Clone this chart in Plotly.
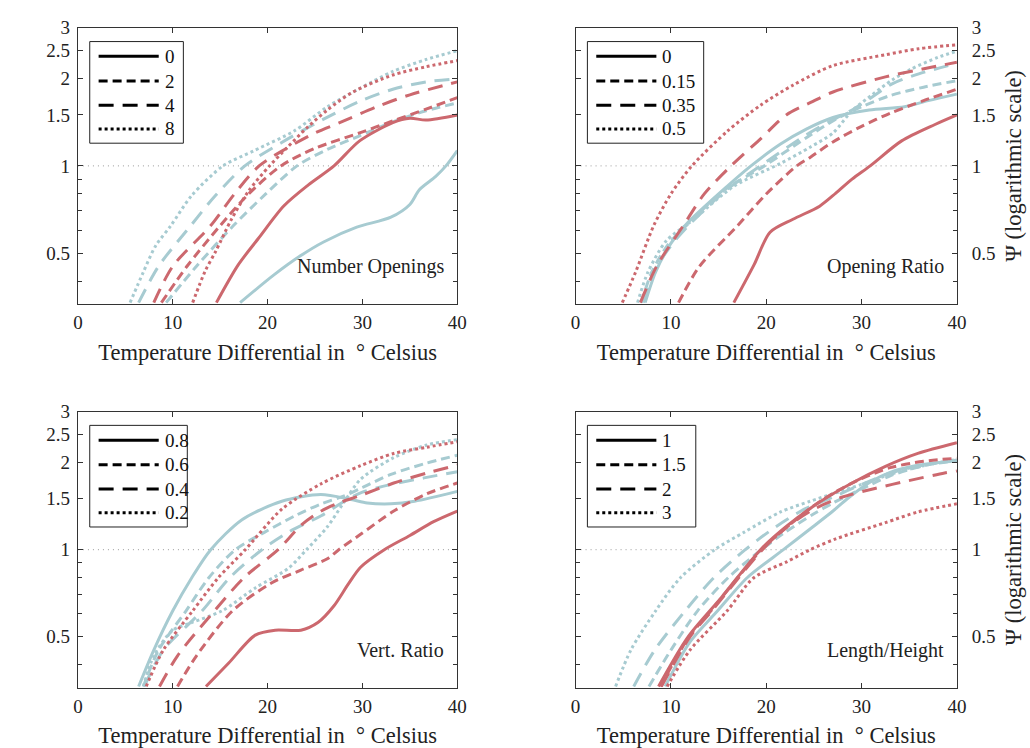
import math
import plotly.graph_objects as go

# ---------------- data ----------------
X_TICKS = [0, 10, 20, 30, 40]
Y_TICKS = [0.5, 1, 1.5, 2, 2.5, 3]
Y_TICK_TEXT = ["0.5", "1", "1.5", "2", "2.5", "3"]
Y_MINOR = [0.4, 0.6, 0.7, 0.8, 0.9]
PANEL_TITLES = ["Number Openings", "Opening Ratio", "Vert. Ratio", "Length/Height"]
LEGEND_LABELS = [["0", "2", "4", "8"], ["0", "0.15", "0.35", "0.5"],
                 ["0.8", "0.6", "0.4", "0.2"], ["1", "1.5", "2", "3"]]
X_TITLE = "Temperature Differential in  ° Celsius"
Y_TITLE = "Ψ (logarithmic scale)"

# Panel 1: Number Openings (0, 2, 4, 8)
no_red_0_x = [14.6, 16.9, 19.0, 21.7, 24.3, 27.0, 29.7, 33.2, 35.0, 36.7, 40]
no_red_0_y = [0.337, 0.455, 0.56, 0.727, 0.86, 1.0, 1.22, 1.41, 1.46, 1.44, 1.50]
no_blue_0_x = [17.1, 20.7, 23.5, 25.9, 29.4, 33.0, 35.0, 36.0, 37.7, 38.8, 40]
no_blue_0_y = [0.337, 0.421, 0.49, 0.546, 0.614, 0.665, 0.736, 0.827, 0.918, 1.0, 1.13]
no_red_2_x = [8.8, 11.5, 15.0, 18.0, 21.4, 25.0, 29.7, 33.2, 36.7, 40]
no_red_2_y = [0.337, 0.45, 0.622, 0.80, 1.0, 1.15, 1.30, 1.43, 1.57, 1.72]
no_blue_2_x = [9.3, 12.5, 16.4, 19.8, 23.1, 26.3, 29.7, 33.2, 36.7, 40]
no_blue_2_y = [0.337, 0.45, 0.622, 0.80, 1.0, 1.14, 1.27, 1.42, 1.55, 1.65]
no_red_4_x = [8.0, 10.0, 14.0, 16.5, 19.1, 22.0, 25.0, 27.6, 31.5, 35.0, 40]
no_red_4_y = [0.337, 0.45, 0.622, 0.80, 1.0, 1.15, 1.30, 1.41, 1.60, 1.76, 1.95]
no_blue_4_x = [6.4, 8.5, 11.9, 14.5, 17.6, 21.4, 25.9, 29.7, 33.2, 36.7, 40]
no_blue_4_y = [0.337, 0.45, 0.622, 0.79, 1.0, 1.2, 1.45, 1.67, 1.84, 1.95, 2.0]
no_red_8_x = [12.1, 13.4, 14.5, 16.2, 18.0, 20.2, 22.1, 24.2, 26.3, 29.0, 33.2, 36.7, 40]
no_red_8_y = [0.337, 0.432, 0.505, 0.655, 0.82, 1.0, 1.16, 1.36, 1.56, 1.80, 2.06, 2.20, 2.31]
no_blue_8_x = [5.5, 6.9, 8.2, 9.8, 12.0, 15.3, 18.6, 22.8, 26.3, 29.7, 33.2, 36.7, 40]
no_blue_8_y = [0.337, 0.43, 0.53, 0.622, 0.79, 1.0, 1.13, 1.32, 1.60, 1.85, 2.12, 2.33, 2.50]

# Panel 2: Opening Ratio (0, 0.15, 0.35, 0.5)
or_red_0_x = [16.6, 18.7, 20.4, 22.8, 25.6, 27.3, 29.0, 30.9, 34.2, 37.7, 40]
or_red_0_y = [0.337, 0.454, 0.59, 0.654, 0.726, 0.805, 0.90, 1.0, 1.22, 1.39, 1.50]
or_blue_0_x = [7.3, 8.4, 10.0, 11.8, 15.9, 18.4, 21.5, 24.2, 27.0, 30.8, 34.5, 37.0, 40]
or_blue_0_y = [0.337, 0.43, 0.54, 0.638, 0.85, 1.0, 1.19, 1.34, 1.47, 1.56, 1.60, 1.68, 1.77]
or_red_15_x = [10.8, 13.0, 17.0, 20.0, 23.2, 24.6, 27.0, 30.0, 33.0, 36.5, 40]
or_red_15_y = [0.337, 0.45, 0.622, 0.80, 1.0, 1.07, 1.21, 1.37, 1.52, 1.68, 1.84]
or_blue_15_x = [6.9, 8.0, 9.8, 11.8, 15.5, 19.8, 24.2, 27.3, 30.0, 33.0, 36.5, 40]
or_blue_15_y = [0.337, 0.43, 0.54, 0.63, 0.82, 1.0, 1.25, 1.45, 1.60, 1.75, 1.87, 1.97]
or_red_35_x = [6.8, 8.5, 11.3, 13.5, 16.3, 19.4, 22.1, 24.9, 27.0, 32.5, 37.3, 40]
or_red_35_y = [0.337, 0.45, 0.622, 0.80, 1.0, 1.24, 1.50, 1.67, 1.80, 2.03, 2.19, 2.28]
or_blue_35_x = [7.1, 8.2, 10.0, 12.0, 15.9, 19.4, 24.2, 27.3, 29.0, 31.0, 33.2, 36.0, 40]
or_blue_35_y = [0.337, 0.43, 0.53, 0.63, 0.83, 1.0, 1.28, 1.46, 1.56, 1.72, 1.92, 2.08, 2.26]
or_red_5_x = [4.9, 6.3, 8.2, 10.0, 12.2, 15.95, 19.4, 22.8, 27.0, 32.5, 36.0, 40]
or_red_5_y = [0.337, 0.43, 0.622, 0.80, 1.0, 1.32, 1.62, 1.90, 2.22, 2.42, 2.54, 2.62]
or_blue_5_x = [6.5, 7.6, 9.5, 12.3, 16.6, 21.5, 24.6, 27.0, 29.0, 31.1, 33.2, 35.2, 38.0, 40]
or_blue_5_y = [0.337, 0.43, 0.55, 0.65, 0.85, 1.02, 1.16, 1.30, 1.55, 1.76, 1.98, 2.16, 2.37, 2.49]

# Panel 3: Vert. Ratio (0.8, 0.6, 0.4, 0.2)
vr_red_8_x = [13.5, 15.9, 18.7, 20.8, 23.5, 25.3, 27.0, 28.5, 29.8, 32.3, 35.0, 37.5, 40]
vr_red_8_y = [0.337, 0.406, 0.507, 0.527, 0.527, 0.56, 0.64, 0.76, 0.87, 1.0, 1.12, 1.25, 1.36]
vr_blue_8_x = [6.4, 8.0, 10.0, 12.0, 14.0, 17.3, 21.5, 25.6, 28.8, 30.5, 33.0, 35.5, 40]
vr_blue_8_y = [0.337, 0.45, 0.615, 0.80, 1.0, 1.27, 1.47, 1.55, 1.49, 1.45, 1.44, 1.47, 1.59]
vr_red_6_x = [10.5, 12.5, 16.3, 20.4, 23.5, 26.3, 27.5, 29.8, 33.3, 36.8, 40]
vr_red_6_y = [0.337, 0.43, 0.615, 0.767, 0.85, 0.93, 1.0, 1.13, 1.36, 1.56, 1.70]
vr_blue_6_x = [6.9, 8.5, 11.4, 13.8, 16.6, 19.7, 22.9, 25.65, 28.0, 30.0, 33.0, 36.5, 40]
vr_blue_6_y = [0.337, 0.45, 0.615, 0.80, 1.0, 1.15, 1.31, 1.44, 1.53, 1.64, 1.82, 1.98, 2.12]
vr_red_4_x = [8.6, 10.5, 14.4, 17.5, 21.1, 23.6, 25.65, 27.5, 29.8, 33.3, 36.8, 40]
vr_red_4_y = [0.337, 0.43, 0.615, 0.80, 1.0, 1.22, 1.36, 1.45, 1.54, 1.70, 1.84, 1.96]
vr_blue_4_x = [7.0, 9.0, 13.1, 16.0, 19.4, 22.2, 25.65, 28.4, 30.0, 33.0, 36.5, 40]
vr_blue_4_y = [0.337, 0.45, 0.615, 0.80, 1.0, 1.15, 1.31, 1.49, 1.58, 1.68, 1.77, 1.86]
vr_red_2_x = [7.2, 9.0, 12.1, 14.8, 17.65, 21.5, 25.65, 29.8, 33.3, 36.8, 40]
vr_red_2_y = [0.337, 0.45, 0.615, 0.80, 1.0, 1.38, 1.69, 1.95, 2.15, 2.26, 2.36]
vr_blue_2_x = [6.9, 8.0, 10.0, 12.0, 15.2, 18.7, 22.2, 24.1, 26.3, 28.0, 29.8, 33.3, 36.8, 40]
vr_blue_2_y = [0.337, 0.43, 0.527, 0.56, 0.615, 0.738, 0.863, 1.0, 1.2, 1.45, 1.75, 2.08, 2.30, 2.40]

# Panel 4: Length/Height (1, 1.5, 2, 3)
lh_red_1_x = [8.7, 11.8, 15.3, 19.4, 22.2, 25.6, 29.0, 32.5, 35.9, 40]
lh_red_1_y = [0.337, 0.5, 0.684, 1.0, 1.21, 1.46, 1.70, 1.94, 2.15, 2.34]
lh_blue_1_x = [9.4, 12.0, 14.9, 18.0, 21.8, 24.9, 27.0, 28.5, 31.0, 33.0, 36.0, 40]
lh_blue_1_y = [0.337, 0.48, 0.615, 0.80, 1.0, 1.2, 1.36, 1.50, 1.72, 1.85, 1.96, 2.03]
lh_red_15_x = [8.9, 11.9, 14.2, 19.5, 22.2, 25.0, 27.5, 30.0, 33.0, 36.5, 40]
lh_red_15_y = [0.337, 0.5, 0.615, 1.0, 1.2, 1.42, 1.6, 1.76, 1.92, 2.02, 2.07]
lh_blue_15_x = [7.7, 10.0, 12.8, 16.0, 19.5, 22.0, 25.0, 27.0, 30.0, 33.0, 36.5, 40]
lh_blue_15_y = [0.337, 0.45, 0.615, 0.80, 1.0, 1.15, 1.33, 1.45, 1.62, 1.80, 1.95, 2.03]
lh_red_2_x = [9.0, 12.0, 14.3, 19.6, 22.2, 25.0, 28.0, 31.5, 34.9, 38.7, 40]
lh_red_2_y = [0.337, 0.5, 0.615, 1.0, 1.2, 1.38, 1.52, 1.63, 1.73, 1.84, 1.87]
lh_blue_2_x = [6.1, 8.3, 11.5, 14.5, 17.8, 21.0, 24.0, 27.0, 30.0, 33.0, 36.5, 40]
lh_blue_2_y = [0.337, 0.45, 0.615, 0.80, 1.0, 1.2, 1.38, 1.52, 1.68, 1.84, 1.96, 2.04]
lh_red_3_x = [9.6, 12.0, 15.9, 18.7, 22.2, 24.6, 27.3, 32.5, 35.9, 40]
lh_red_3_y = [0.337, 0.45, 0.615, 0.80, 0.91, 1.0, 1.09, 1.24, 1.35, 1.44]
lh_blue_3_x = [4.2, 5.8, 8.4, 11.0, 14.6, 17.7, 21.5, 24.6, 27.0, 30.0, 33.0, 36.5, 40]
lh_blue_3_y = [0.337, 0.45, 0.615, 0.80, 1.0, 1.15, 1.35, 1.47, 1.56, 1.68, 1.82, 1.95, 2.05]

# ---------------- style ----------------
RED = "rgb(204,104,110)"
BLUE = "rgb(167,203,209)"
DASHES = ["solid", "9px,5px", "15px,9px", "3px,3px"]
FONT = "Liberation Serif"
W, H = 1030, 748
# panel pixel boxes: left, right, top, bottom
PANELS = [(74, 459, 18, 298), (579, 966, 18, 298), (74, 459, 407, 687), (579, 966, 407, 687)]
LEG_W = [95, 118, 99, 110]

series = [
    [(no_blue_0_x, no_blue_0_y, no_red_0_x, no_red_0_y),
     (no_blue_2_x, no_blue_2_y, no_red_2_x, no_red_2_y),
     (no_blue_4_x, no_blue_4_y, no_red_4_x, no_red_4_y),
     (no_blue_8_x, no_blue_8_y, no_red_8_x, no_red_8_y)],
    [(or_blue_0_x, or_blue_0_y, or_red_0_x, or_red_0_y),
     (or_blue_15_x, or_blue_15_y, or_red_15_x, or_red_15_y),
     (or_blue_35_x, or_blue_35_y, or_red_35_x, or_red_35_y),
     (or_blue_5_x, or_blue_5_y, or_red_5_x, or_red_5_y)],
    [(vr_blue_8_x, vr_blue_8_y, vr_red_8_x, vr_red_8_y),
     (vr_blue_6_x, vr_blue_6_y, vr_red_6_x, vr_red_6_y),
     (vr_blue_4_x, vr_blue_4_y, vr_red_4_x, vr_red_4_y),
     (vr_blue_2_x, vr_blue_2_y, vr_red_2_x, vr_red_2_y)],
    [(lh_blue_1_x, lh_blue_1_y, lh_red_1_x, lh_red_1_y),
     (lh_blue_15_x, lh_blue_15_y, lh_red_15_x, lh_red_15_y),
     (lh_blue_2_x, lh_blue_2_y, lh_red_2_x, lh_red_2_y),
     (lh_blue_3_x, lh_blue_3_y, lh_red_3_x, lh_red_3_y)],
]

fig = go.Figure()
layout = dict(width=W, height=H, margin=dict(l=0, r=0, t=0, b=0),
              paper_bgcolor="white", plot_bgcolor="white", showlegend=False,
              font=dict(family=FONT, size=19, color="#222"))
shapes, annotations = [], []

for p in range(4):
    n = "" if p == 0 else str(p + 1)
    xa, ya = "x" + n, "y" + n
    L, R, T, B = PANELS[p]
    pw, ph = R - L, B - T
    right_side = p in (1, 3)

    # reference line at psi = 1
    fig.add_trace(go.Scatter(x=[0, 40], y=[1, 1], mode="lines", xaxis=xa, yaxis=ya,
                             line=dict(color="#9a9a9a", width=1, dash="1px,4px"),
                             hoverinfo="skip"))
    for s in range(4):
        bx, by, rx, ry = series[p][s]
        fig.add_trace(go.Scatter(x=bx, y=by, mode="lines", xaxis=xa, yaxis=ya,
                                 line=dict(color=BLUE, width=3, dash=DASHES[s], shape="spline", smoothing=0.8)))
    for s in range(4):
        bx, by, rx, ry = series[p][s]
        fig.add_trace(go.Scatter(x=rx, y=ry, mode="lines", xaxis=xa, yaxis=ya,
                                 line=dict(color=RED, width=3, dash=DASHES[s], shape="spline", smoothing=0.8)))

    layout["xaxis" + n] = dict(
        domain=[L / W, R / W], anchor=ya, range=[0, 40], tickvals=X_TICKS,
        ticks="inside", ticklen=5, tickcolor="#333", showline=True, linecolor="#333",
        linewidth=1, mirror="ticks", showgrid=False, zeroline=False,
        tickfont=dict(family=FONT, size=19, color="#222"), ticklabelstandoff=1,
        title=dict(text=X_TITLE, font=dict(family=FONT, size=22.5, color="#222"), standoff=12))
    layout["yaxis" + n] = dict(
        domain=[1 - B / H, 1 - T / H], anchor=xa, type="log",
        range=[math.log10(1 / 3), math.log10(3)], tickvals=Y_TICKS, ticktext=Y_TICK_TEXT,
        ticks="inside", ticklen=5, tickcolor="#333", showline=True, linecolor="#333",
        linewidth=1, mirror="ticks", showgrid=False, zeroline=False,
        side="right" if right_side else "left",
        ticklabelstandoff=10 if right_side else 3,
        minor=dict(tickvals=Y_MINOR, ticks="inside", ticklen=4, tickcolor="#333", showgrid=False),
        tickfont=dict(family=FONT, size=19, color="#222"),
        title=dict(text=Y_TITLE if right_side else "", font=dict(family=FONT, size=22.5, color="#222"),
                   standoff=10))

    # panel label
    annotations.append(dict(text=PANEL_TITLES[p], xref=xa + " domain", yref=ya + " domain",
                            x=(pw - 11) / pw, y=38 / ph, xanchor="right", yanchor="middle",
                            showarrow=False, font=dict(family=FONT, size=20, color="#222")))

    # legend box (drawn as shapes + text)
    bl, bt, bw, bh = 12, 14, LEG_W[p], 103
    shapes.append(dict(type="rect", xref=xa + " domain", yref=ya + " domain",
                       x0=bl / pw, x1=(bl + bw) / pw, y0=1 - (bt + bh) / ph, y1=1 - bt / ph,
                       line=dict(color="#222", width=1), fillcolor="white", layer="above"))
    rows = [15, 40, 64.5, 88.5]
    for s in range(4):
        yy = 1 - (bt + rows[s]) / ph
        shapes.append(dict(type="line", xref=xa + " domain", yref=ya + " domain",
                           x0=(bl + 9) / pw, x1=(bl + 70) / pw, y0=yy, y1=yy,
                           line=dict(color="black", width=3, dash=DASHES[s]), layer="above"))
        annotations.append(dict(text=LEGEND_LABELS[p][s], xref=xa + " domain", yref=ya + " domain",
                                x=(bl + 74) / pw, y=yy, xanchor="left", yanchor="middle",
                                showarrow=False, font=dict(family=FONT, size=19, color="#111")))

layout["shapes"] = shapes
layout["annotations"] = annotations
fig.update_layout(**layout)
fig.write_html("out.html", config={"displayModeBar": False},
               post_script="document.body.style.margin='0';")
